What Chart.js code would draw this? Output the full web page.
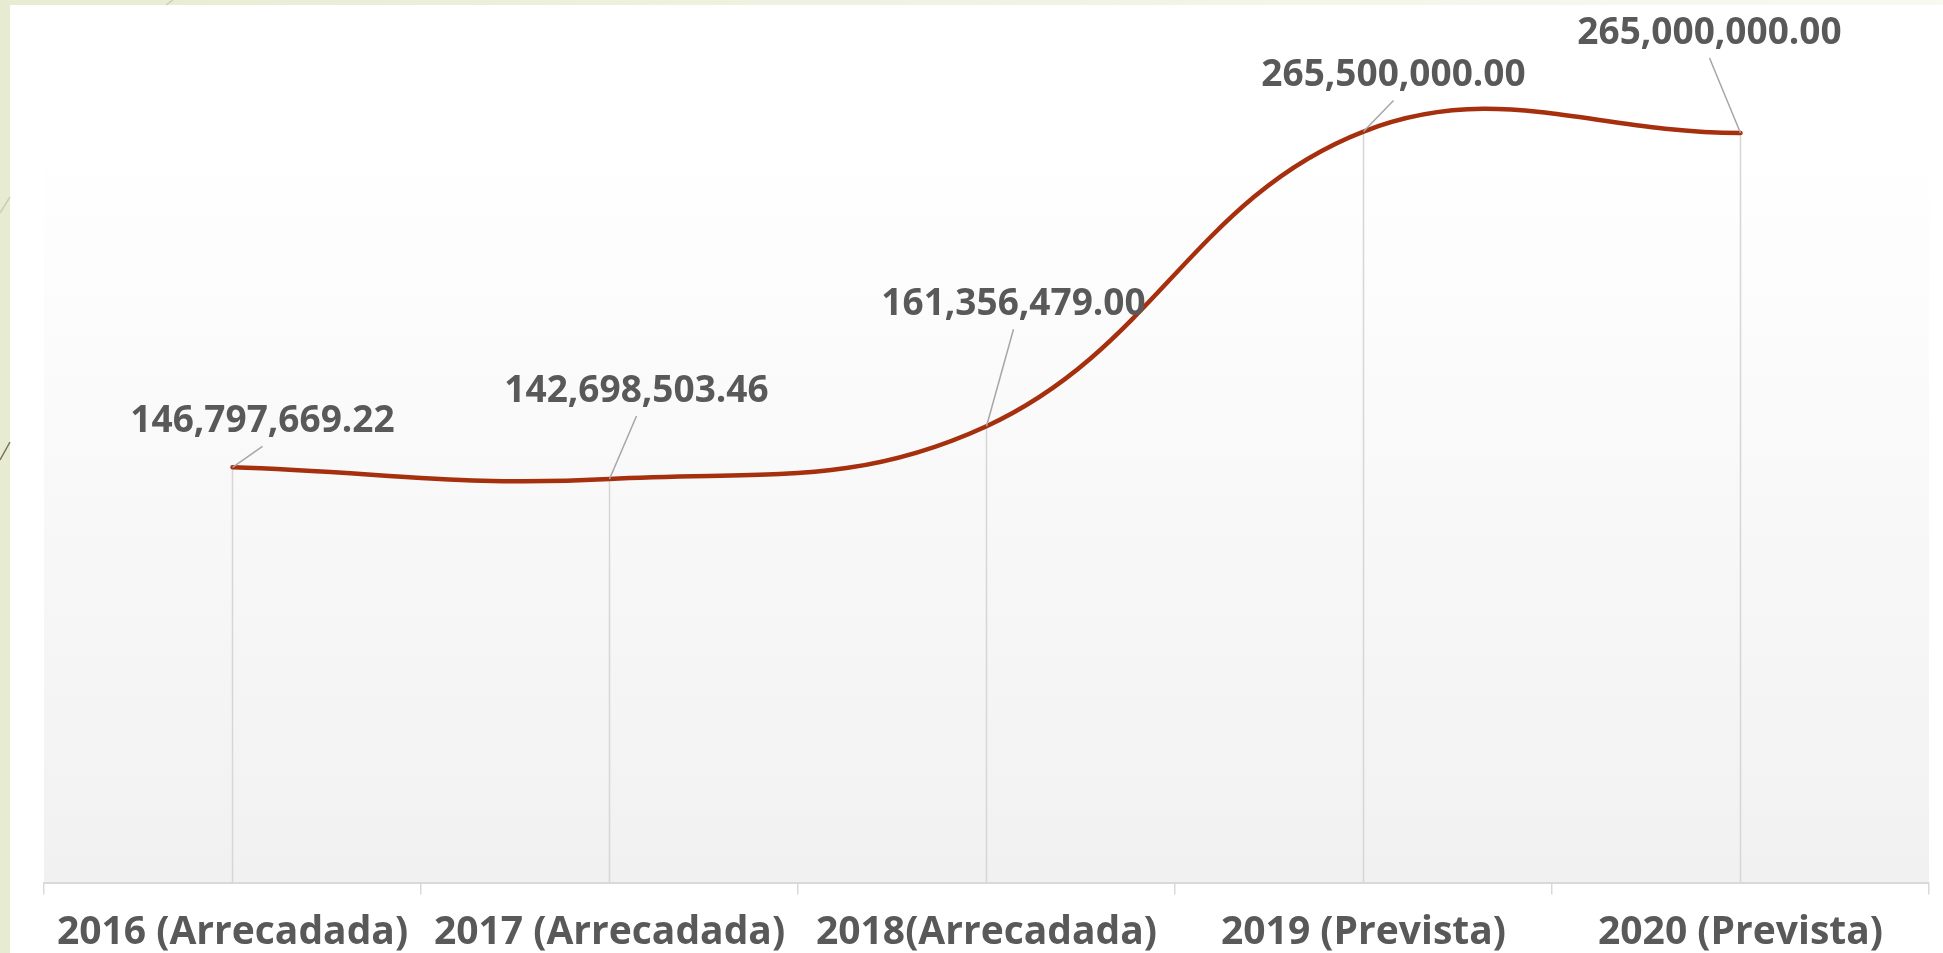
<!DOCTYPE html>
<html>
<head>
<meta charset="utf-8">
<script src="https://cdn.jsdelivr.net/npm/chart.js@4"></script>
<style>
  html, body { margin: 0; padding: 0; background: #fff; overflow: hidden; }
  canvas { display: block; }
</style>
</head>
<body>
<canvas id="receitaChart" width="1943" height="953"></canvas>
<script>
// Categories and values
const categories = [
  "2016 (Arrecadada)",
  "2017 (Arrecadada)",
  "2018(Arrecadada)",
  "2019 (Prevista)",
  "2020 (Prevista)",
];
const receita = [146797669.22, 142698503.46, 161356479.0, 265500000.0, 265000000.0];

// Where each value label sits relative to its point (px)
const labelOffsets = [
  [30, -46],
  [27, -88],
  [27, -122],
  [30, -56],
  [-31, -100],
];

const textColor = "#595959";
const labelFont = "bold 37px 'Open Sans'";

const formatValue = (v) =>
  v.toLocaleString("en-US", { minimumFractionDigits: 2, maximumFractionDigits: 2 });

// Slide background, green strips and plot gradient
const backdrop = {
  id: "backdrop",
  beforeDraw(chart) {
    const { ctx, chartArea, width, height } = chart;
    ctx.save();
    ctx.fillStyle = "#ffffff";
    ctx.fillRect(0, 0, width, height);

    ctx.fillStyle = "#e6ebd1";
    ctx.fillRect(0, 0, 10, height);
    const top = ctx.createLinearGradient(0, 0, width, 0);
    top.addColorStop(0, "#e7ecd3");
    top.addColorStop(1, "#f8faf2");
    ctx.fillStyle = top;
    ctx.fillRect(10, 0, width - 10, 5);

    ctx.lineWidth = 1.5;
    ctx.strokeStyle = "#c9cfb7";
    ctx.beginPath();
    ctx.moveTo(0, 213);
    ctx.lineTo(10, 197);
    ctx.moveTo(166, 5);
    ctx.lineTo(173, 0);
    ctx.stroke();
    ctx.strokeStyle = "#7d6f55";
    ctx.beginPath();
    ctx.moveTo(0, 460);
    ctx.lineTo(10, 442);
    ctx.stroke();

    // plot fill starts a little below the top of the chart area
    const fillTop = 142;
    const g = ctx.createLinearGradient(0, fillTop, 0, chartArea.bottom);
    g.addColorStop(0, "#ffffff");
    g.addColorStop(1, "#f1f1f1");
    ctx.fillStyle = g;
    ctx.fillRect(chartArea.left, fillTop, chartArea.right - chartArea.left, chartArea.bottom - fillTop);
    ctx.restore();
  },
};

// Thin drop lines from each point down to the axis
const dropLines = {
  id: "dropLines",
  beforeDatasetsDraw(chart) {
    const { ctx, chartArea } = chart;
    const meta = chart.getDatasetMeta(0);
    ctx.save();
    ctx.strokeStyle = "#d6d6d6";
    ctx.lineWidth = 1.5;
    meta.data.forEach((pt) => {
      ctx.beginPath();
      ctx.moveTo(pt.x, pt.y);
      ctx.lineTo(pt.x, chartArea.bottom);
      ctx.stroke();
    });
    ctx.restore();
  },
};

// Value labels with leader lines
const valueLabels = {
  id: "valueLabels",
  afterDatasetsDraw(chart) {
    const { ctx } = chart;
    const meta = chart.getDatasetMeta(0);
    ctx.save();
    meta.data.forEach((pt, i) => {
      const lx = pt.x + labelOffsets[i][0];
      const ly = pt.y + labelOffsets[i][1];
      ctx.strokeStyle = "#a6a6a6";
      ctx.lineWidth = 1.5;
      ctx.beginPath();
      ctx.moveTo(pt.x, pt.y);
      ctx.lineTo(lx, ly + 25);
      ctx.stroke();

      ctx.fillStyle = textColor;
      ctx.font = labelFont;
      ctx.textAlign = "center";
      ctx.textBaseline = "middle";
      ctx.fillText(formatValue(chart.data.datasets[0].data[i]), lx, ly);
    });
    ctx.restore();
  },
};

new Chart(document.getElementById("receitaChart").getContext("2d"), {
  type: "line",
  data: {
    labels: categories,
    datasets: [
      {
        label: "Receita",
        data: receita,
        borderColor: "#a62f0e",
        borderWidth: 4.5,
        borderCapStyle: "round",
        tension: 0.4,
        pointRadius: 0,
        fill: false,
      },
    ],
  },
  options: {
    responsive: false,
    animation: false,
    layout: {
      padding: { left: 44, right: 14, top: 34, bottom: 0 },
    },
    plugins: {
      legend: { display: false },
      tooltip: { enabled: false },
    },
    scales: {
      x: {
        offset: true,
        afterFit(scale) {
          scale.height = 70.4;
        },
        grid: {
          offset: true,
          drawOnChartArea: false,
          color: "#d9d9d9",
          lineWidth: 1.5,
          tickLength: 12,
        },
        border: { color: "#d9d9d9", width: 2 },
        ticks: {
          color: textColor,
          padding: 15,
          maxRotation: 0,
          autoSkip: false,
          font: { family: "'Open Sans'", weight: "bold", size: 39 },
        },
      },
      y: {
        display: false,
        min: 0,
        max: 300000000,
      },
    },
  },
  plugins: [backdrop, dropLines, valueLabels],
});
</script>
</body>
</html>
